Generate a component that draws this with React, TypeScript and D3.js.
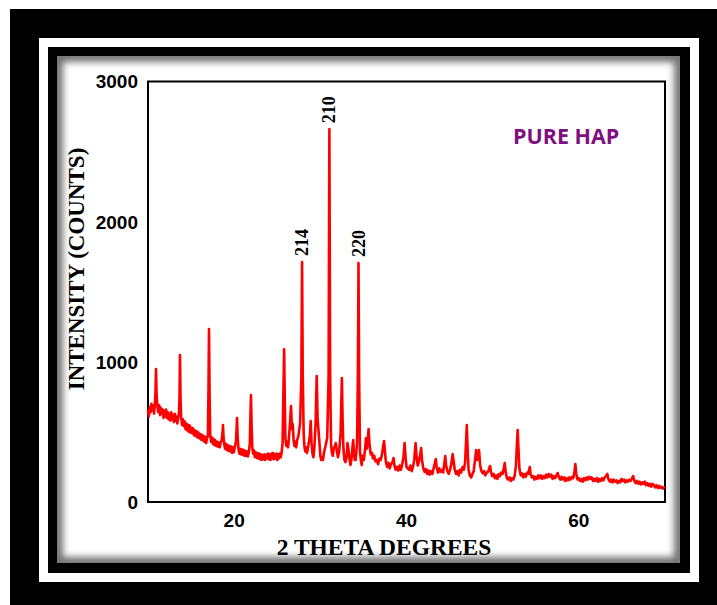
import React from "react";
import * as d3 from "d3";

const pattern: [number, number][] = [
  [10.0, 660], [10.1, 610], [10.2, 680], [10.3, 640], [10.4, 700], [10.5, 655], [10.6, 690], [10.7, 630], [10.8, 700], [10.87, 780], [10.93, 948], [11.0, 760], [11.1, 680], [11.2, 640], [11.3, 690], [11.4, 620], [11.5, 670], [11.6, 630], [11.7, 660], [11.8, 600], [11.9, 650],
  [12.0, 610], [12.1, 660], [12.2, 600], [12.3, 640], [12.4, 590], [12.5, 630], [12.6, 580], [12.7, 640], [12.8, 590], [12.9, 620], [13.0, 570], [13.1, 630], [13.2, 580], [13.3, 610], [13.4, 560], [13.5, 600], [13.6, 640], [13.66, 760], [13.71, 1048], [13.78, 720], [13.85, 600], [13.95, 550],
  [14.05, 590], [14.15, 540], [14.25, 575], [14.35, 520], [14.45, 560], [14.55, 510], [14.65, 550], [14.75, 500], [14.85, 545], [14.95, 495], [15.05, 530], [15.15, 490], [15.25, 525], [15.35, 475], [15.45, 510], [15.55, 470], [15.65, 505], [15.75, 460], [15.85, 495], [15.95, 455],
  [16.05, 485], [16.15, 445], [16.25, 480], [16.35, 440], [16.45, 470], [16.55, 430], [16.65, 465], [16.75, 420], [16.85, 455], [16.95, 470], [17.02, 800], [17.08, 1233], [17.15, 760], [17.22, 480], [17.32, 430], [17.42, 460], [17.52, 415], [17.62, 450], [17.72, 405], [17.82, 440], [17.92, 400],
  [18.02, 430], [18.12, 395], [18.22, 425], [18.32, 390], [18.42, 420], [18.55, 440], [18.65, 500], [18.7, 549], [18.76, 470], [18.85, 410], [18.95, 380], [19.05, 415], [19.15, 370], [19.25, 405], [19.35, 365], [19.45, 400], [19.55, 360], [19.65, 395], [19.75, 350], [19.85, 390], [19.95, 355],
  [20.05, 385], [20.2, 430], [20.28, 520], [20.33, 599], [20.4, 470], [20.5, 380], [20.6, 345], [20.7, 380], [20.8, 340], [20.9, 375], [21.0, 335], [21.1, 370], [21.2, 330], [21.3, 365], [21.4, 330], [21.5, 360], [21.6, 325], [21.7, 355], [21.82, 420], [21.9, 640], [21.95, 763], [22.02, 560], [22.1, 390],
  [22.2, 345], [22.3, 370], [22.4, 320], [22.5, 355], [22.6, 315], [22.7, 350], [22.8, 310], [22.9, 345], [23.0, 305], [23.1, 340], [23.2, 300], [23.3, 335], [23.4, 305], [23.5, 340], [23.6, 300], [23.7, 335], [23.8, 310], [23.9, 345],
  [24.0, 305], [24.1, 340], [24.2, 300], [24.3, 345], [24.4, 310], [24.5, 350], [24.6, 305], [24.7, 340], [24.8, 310], [24.9, 345], [25.0, 300], [25.1, 340], [25.2, 310], [25.3, 345], [25.4, 320], [25.5, 350], [25.62, 420], [25.72, 800], [25.8, 1090], [25.88, 700], [25.95, 450],
  [26.05, 400], [26.15, 430], [26.25, 390], [26.35, 450], [26.48, 560], [26.6, 684], [26.7, 520], [26.8, 556], [26.9, 440], [27.0, 400], [27.1, 430], [27.2, 390], [27.3, 440], [27.45, 470], [27.65, 560], [27.8, 900], [27.88, 1712], [27.96, 900],
  [28.07, 480], [28.15, 400], [28.25, 360], [28.35, 390], [28.45, 350], [28.6, 400], [28.78, 470], [28.88, 577], [28.98, 420], [29.1, 340], [29.2, 320], [29.3, 380], [29.45, 560], [29.58, 898], [29.68, 600], [29.8, 500], [29.9, 420],
  [30.0, 330], [30.1, 300], [30.2, 320], [30.3, 300], [30.45, 360], [30.6, 400], [30.8, 460], [30.96, 900], [31.05, 2660], [31.14, 900], [31.24, 420], [31.34, 350], [31.45, 330], [31.55, 380], [31.7, 400], [31.8, 420], [31.92, 360],
  [32.05, 320], [32.18, 360], [32.35, 480], [32.43, 700], [32.5, 884], [32.58, 600], [32.68, 380], [32.8, 300], [32.92, 285], [33.05, 320], [33.15, 420], [33.25, 380], [33.4, 300], [33.5, 264], [33.6, 300], [33.75, 400], [33.82, 442], [33.9, 340],
  [34.0, 300], [34.1, 300], [34.26, 420], [34.36, 900], [34.43, 1705], [34.5, 900], [34.6, 360], [34.7, 300], [34.8, 264], [34.92, 330], [35.05, 300], [35.2, 380], [35.3, 456], [35.4, 380], [35.5, 440], [35.6, 520], [35.7, 420], [35.85, 340],
  [36.0, 350], [36.1, 310], [36.25, 330], [36.4, 290], [36.55, 300], [36.7, 270], [36.85, 310], [37.0, 300], [37.15, 340], [37.3, 400], [37.4, 435], [37.5, 360], [37.6, 290], [37.75, 250], [37.9, 280],
  [38.05, 240], [38.2, 270], [38.35, 280], [38.5, 314], [38.6, 260], [38.75, 230], [38.9, 250], [39.05, 225], [39.2, 260], [39.35, 230], [39.5, 270], [39.65, 320], [39.78, 420], [39.9, 310],
  [40.0, 250], [40.15, 240], [40.3, 230], [40.45, 260], [40.6, 220], [40.75, 250], [40.9, 300], [41.05, 420], [41.15, 340], [41.3, 260], [41.45, 290], [41.6, 340], [41.7, 385], [41.8, 300], [41.95, 240],
  [42.1, 215], [42.25, 235], [42.4, 200], [42.55, 225], [42.7, 195], [42.85, 220], [43.0, 200], [43.15, 240], [43.3, 280], [43.4, 306], [43.5, 250], [43.65, 210], [43.8, 240], [43.95, 215],
  [44.1, 230], [44.25, 210], [44.4, 280], [44.5, 328], [44.6, 260], [44.75, 220], [44.9, 200], [45.05, 230], [45.2, 270], [45.35, 342], [45.45, 300], [45.6, 230], [45.75, 200], [45.9, 220],
  [46.05, 190], [46.2, 230], [46.35, 210], [46.5, 250], [46.65, 230], [46.8, 280], [46.92, 440], [47.0, 549], [47.08, 400], [47.2, 230], [47.35, 190], [47.5, 175], [47.65, 200], [47.8, 220], [47.95, 300],
  [48.08, 370], [48.2, 300], [48.32, 340], [48.42, 370], [48.55, 260], [48.7, 220], [48.85, 205], [49.0, 220], [49.15, 190], [49.3, 210], [49.45, 215], [49.6, 240], [49.7, 257], [49.8, 215], [49.95, 185],
  [50.1, 200], [50.25, 170], [50.4, 190], [50.55, 165], [50.7, 200], [50.85, 185], [51.0, 210], [51.15, 200], [51.3, 240], [51.4, 278], [51.5, 220], [51.65, 170], [51.8, 160], [51.95, 175],
  [52.1, 150], [52.25, 170], [52.4, 160], [52.55, 185], [52.7, 260], [52.82, 420], [52.9, 513], [52.98, 400], [53.1, 240], [53.25, 190], [53.4, 205], [53.55, 175], [53.7, 200], [53.85, 180],
  [54.0, 210], [54.15, 200], [54.3, 250], [54.4, 205], [54.55, 175], [54.7, 185], [54.85, 160], [55.0, 180], [55.15, 165], [55.3, 190], [55.45, 170], [55.6, 190], [55.75, 165], [55.9, 185],
  [56.05, 170], [56.2, 195], [56.35, 175], [56.5, 200], [56.65, 180], [56.8, 195], [56.95, 165], [57.1, 185], [57.25, 170], [57.4, 190], [57.55, 207], [57.7, 175], [57.85, 160],
  [58.0, 180], [58.15, 160], [58.3, 175], [58.45, 150], [58.6, 170], [58.75, 155], [58.9, 175], [59.05, 160], [59.2, 180], [59.35, 170], [59.5, 220], [59.6, 271], [59.7, 200], [59.85, 160],
  [60.0, 170], [60.15, 150], [60.3, 165], [60.45, 145], [60.6, 170], [60.75, 155], [60.9, 175], [61.05, 160], [61.2, 180], [61.35, 165], [61.5, 175], [61.65, 150], [61.8, 165], [61.95, 150],
  [62.1, 170], [62.25, 145], [62.4, 165], [62.55, 150], [62.7, 170], [62.85, 155], [63.0, 175], [63.15, 185], [63.3, 200], [63.45, 160], [63.6, 145], [63.75, 160], [63.9, 140],
  [64.05, 160], [64.2, 145], [64.35, 155], [64.5, 135], [64.65, 150], [64.8, 140], [64.95, 165], [65.1, 150], [65.25, 160], [65.4, 140], [65.55, 155], [65.7, 145], [65.85, 160],
  [66.0, 150], [66.15, 165], [66.3, 185], [66.45, 150], [66.6, 135], [66.75, 150], [66.9, 130], [67.05, 145], [67.2, 125], [67.35, 140], [67.5, 130], [67.65, 145], [67.8, 120], [67.95, 135],
  [68.1, 115], [68.25, 130], [68.4, 110], [68.55, 130], [68.7, 120], [68.85, 105], [69.0, 120], [69.15, 100], [69.3, 115], [69.45, 100], [69.6, 110], [69.75, 95], [69.9, 105], [70.0, 100],
];

const peakLabels = ["214", "210", "220"];
const peakAngles = [27.88, 31.05, 34.43];
const peakCounts = [1712, 2660, 1705];

const xTicks = [20, 40, 60];
const yTicks = [0, 1000, 2000, 3000];
const xDomain: [number, number] = [10, 70];
const yDomain: [number, number] = [0, 3000];

const W = 717;
const H = 605;

export default function App() {
  const x = d3.scaleLinear().domain(xDomain).range([148, 665]);
  const y = d3.scaleLinear().domain(yDomain).range([502, 81.5]);
  const line = d3
    .line<[number, number]>()
    .x((d) => x(d[0]))
    .y((d) => y(d[1]));

  const sans = "'Liberation Sans', Arial, sans-serif";
  const serif = "'Liberation Serif', 'Times New Roman', serif";

  return (
    <svg
      width={W}
      height={H}
      style={{ position: "absolute", left: 0, top: 0, display: "block" }}
    >
      <defs>
        <clipPath id="panelClip">
          <rect x={57} y={56} width={623} height={507} />
        </clipPath>
        <filter id="blur" x="-10%" y="-10%" width="120%" height="120%">
          <feGaussianBlur stdDeviation={3.5} />
        </filter>
      </defs>
      <rect x={0} y={0} width={W} height={H} fill="#fff" />
      {/* frame */}
      <rect x={10} y={9} width={W - 10} height={H - 9} fill="#000" />
      <rect x={39} y={38} width={660} height={544} fill="#fff" />
      <rect x={48} y={47} width={642} height={526} fill="#000" />
      <g clipPath="url(#panelClip)">
        <rect x={57} y={56} width={623} height={507} fill="#fff" />
        <rect
          x={57}
          y={56}
          width={623}
          height={507}
          fill="none"
          stroke="#000"
          strokeWidth={12}
          opacity={0.55}
          filter="url(#blur)"
        />
      </g>

      {/* plot box */}
      <rect
        x={x(xDomain[0])}
        y={y(yDomain[1])}
        width={x(xDomain[1]) - x(xDomain[0])}
        height={y(yDomain[0]) - y(yDomain[1])}
        fill="none"
        stroke="#000"
        strokeWidth={2}
      />

      {/* data */}
      <path
        d={line(pattern) || ""}
        fill="none"
        stroke="#ff0000"
        strokeWidth={2.6}
        strokeLinejoin="round"
      />

      {/* y tick labels */}
      {yTicks.map((t) => (
        <text
          key={"y" + t}
          x={138}
          y={y(t)}
          dy="0.36em"
          textAnchor="end"
          fontFamily={sans}
          fontWeight="bold"
          fontSize={19}
          fill="#000"
        >
          {t}
        </text>
      ))}
      {/* x tick labels */}
      {xTicks.map((t) => (
        <text
          key={"x" + t}
          x={x(t)}
          y={527}
          textAnchor="middle"
          fontFamily={sans}
          fontWeight="bold"
          fontSize={19}
          fill="#000"
        >
          {t}
        </text>
      ))}

      {/* axis titles */}
      <text
        x={384}
        y={555}
        textAnchor="middle"
        fontFamily={serif}
        fontWeight="bold"
        fontSize={23.5}
        fill="#000"
      >
        2 THETA DEGREES
      </text>
      <text
        transform={`translate(84, 269) rotate(-90)`}
        textAnchor="middle"
        fontFamily={serif}
        fontWeight="bold"
        fontSize={23}
        fill="#000"
      >
        INTENSITY (COUNTS)
      </text>

      {/* peak labels */}
      {peakLabels.map((lab, i) => (
        <text
          key={lab}
          transform={`translate(${x(peakAngles[i]) + 6}, ${y(peakCounts[i]) - 6}) rotate(-90)`}
          textAnchor="start"
          fontFamily={serif}
          fontWeight="bold"
          fontSize={18}
          fill="#000"
        >
          {lab}
        </text>
      ))}

      {/* sample label */}
      <text
        x={513}
        y={144}
        fontFamily="'Open Sans', sans-serif"
        fontWeight="bold"
        fontSize={21.5}
        fill="#7f0f80"
      >
        PURE HAP
      </text>
    </svg>
  );
}
